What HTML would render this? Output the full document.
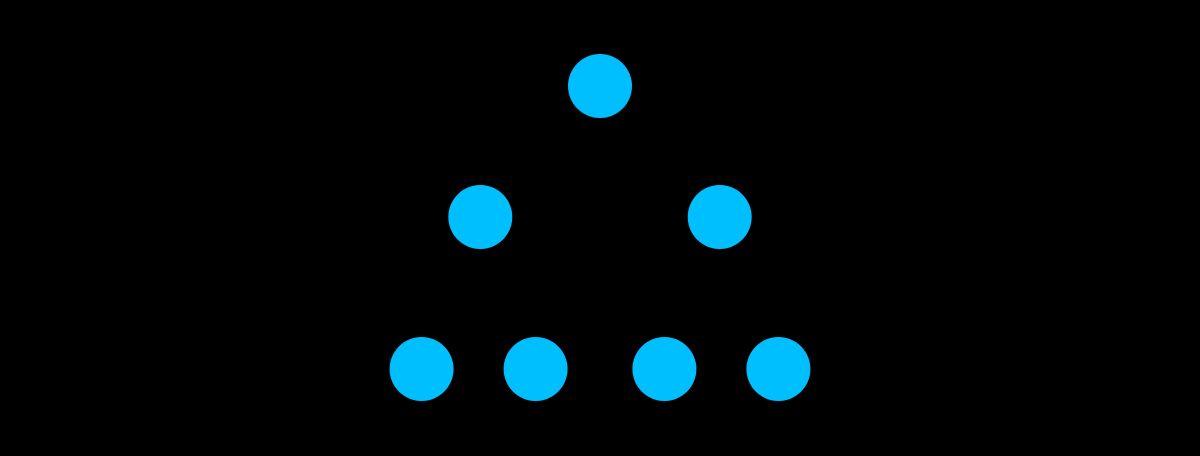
<!DOCTYPE html>
<html><head><meta charset="utf-8"><style>
html,body{margin:0;padding:0;background:#000;width:1200px;height:456px;overflow:hidden}
svg{display:block}
</style></head><body>
<svg id="chart" width="1200" height="456" viewBox="0 0 1200 456">
<rect width="1200" height="456" fill="#000"/>
<g id="edges"></g>
<g id="nodes"></g>
</svg>
<script>
// tree data: node ids, depth level, horizontal position (in layout units), parent index
const nodeIds = ["root","left","right","left-left","left-right","right-left","right-right"];
const nodeDepth = [0,1,1,2,2,2,2];
const nodeOffset = [0,-2.1,2.1,-3.13,-1.13,1.13,3.13];
const nodeParent = [-1,0,0,1,1,2,2];

const xScale = v => 600 + v * 57;
const yScale = d => [86,217,369][d];
const R = 32;
const ns = "http://www.w3.org/2000/svg";
const eg = document.getElementById('edges');
const ng = document.getElementById('nodes');
nodeIds.forEach((id,i)=>{
  const p = nodeParent[i];
  if(p>=0){
    const l = document.createElementNS(ns,'line');
    l.setAttribute('x1',xScale(nodeOffset[p]));l.setAttribute('y1',yScale(nodeDepth[p]));
    l.setAttribute('x2',xScale(nodeOffset[i]));l.setAttribute('y2',yScale(nodeDepth[i]));
    l.setAttribute('stroke','#000');l.setAttribute('stroke-width','2');
    
    
    eg.appendChild(l);
  }
  const c = document.createElementNS(ns,'circle');
  c.setAttribute('cx',xScale(nodeOffset[i]));
  c.setAttribute('cy',yScale(nodeDepth[i]));
  c.setAttribute('r',R);
  c.setAttribute('fill','#00BFFF');
  
  
  ng.appendChild(c);
});
</script>
</body></html>
